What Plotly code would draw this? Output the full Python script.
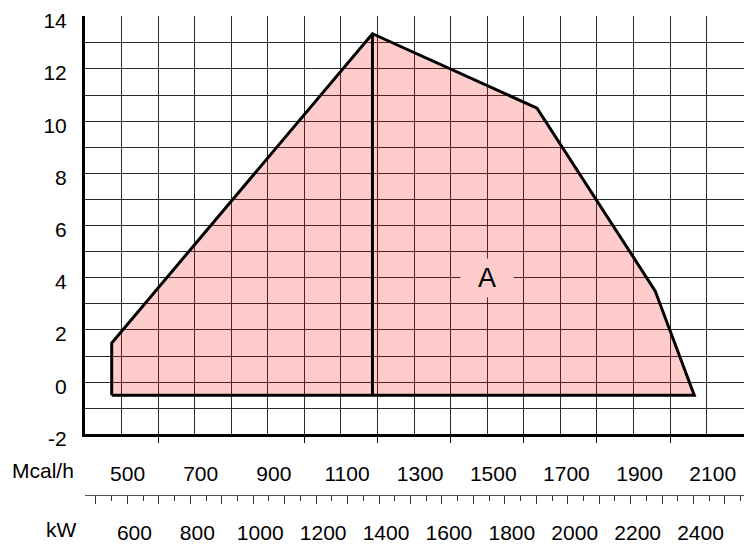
import plotly.graph_objects as go

# Working field boundary: output in Mcal/h vs. combustion-chamber pressure (mbar)
field_mcal = [473, 473, 1186, 1636, 1959, 2066, 473]
field_mbar = [-0.5, 1.5, 13.35, 10.5, 3.5, -0.5, -0.5]

# Divider from the peak straight down to the base
divider_mcal = [1186, 1186]
divider_mbar = [13.35, -0.5]

# Axis ranges and tick labels
X_MIN, X_MAX = 400, 2202
Y_MIN, Y_MAX = -2, 14.03
mcal_labels = [500, 700, 900, 1100, 1300, 1500, 1700, 1900, 2100]
mcal_marks = [600, 1000, 1200, 1400, 1600, 1800, 2000]
y_labels = [-2, 0, 2, 4, 6, 8, 10, 12, 14]
kw_labels = [600, 800, 1000, 1200, 1400, 1600, 1800, 2000, 2200, 2400]
KW_TO_MCAL = 0.86

FONT = "Liberation Sans, Arial, sans-serif"
GRID = "#2a2a2a"
FS = 21

fig = go.Figure()

fig.add_trace(go.Scatter(
    x=field_mcal, y=field_mbar, mode="lines", fill="toself",
    fillcolor="rgba(255,0,0,0.2)", line=dict(color="black", width=3),
    hoverinfo="skip", showlegend=False,
))
fig.add_trace(go.Scatter(
    x=divider_mcal, y=divider_mbar, mode="lines",
    line=dict(color="black", width=3), hoverinfo="skip", showlegend=False,
))
# placeholders so the secondary x axes are registered
fig.add_trace(go.Scatter(x=[], y=[], xaxis="x2", showlegend=False, hoverinfo="skip"))
fig.add_trace(go.Scatter(x=[], y=[], xaxis="x3", showlegend=False, hoverinfo="skip"))

fig.add_annotation(
    x=1500, y=4, text="A", showarrow=False,
    font=dict(family=FONT, size=27, color="black"),
    bgcolor="#FFCCCC", width=50, height=36,
)

grid_x = list(range(400, 2300, 100))
grid_y = list(range(-2, 15))

kw_ticks = list(range(500, 2600, 100))
kw_text = [str(v) if v in kw_labels else "" for v in kw_ticks]

fig.update_layout(
    width=744, height=544,
    margin=dict(l=85, r=0, t=16, b=46),
    paper_bgcolor="white", plot_bgcolor="white",
    font=dict(family=FONT, size=FS, color="black"),
    xaxis=dict(
        range=[X_MIN, X_MAX], anchor="y",
        tickmode="array", tickvals=grid_x,
        ticktext=[str(v) if v in mcal_labels else "" for v in grid_x],
        ticks="", showgrid=True, gridcolor=GRID, gridwidth=1,
        zeroline=False, showline=True, linecolor="black", linewidth=3,
        ticklabelshift=6, ticklabelstandoff=18,
        tickfont=dict(size=FS),
    ),
    xaxis3=dict(
        range=[X_MIN, X_MAX], anchor="y", overlaying="x",
        tickmode="array", tickvals=mcal_marks, ticks="outside",
        ticklen=8, tickwidth=1, tickcolor="black",
        showticklabels=False, showgrid=False, zeroline=False, showline=False,
    ),
    xaxis2=dict(
        range=[X_MIN / KW_TO_MCAL, X_MAX / KW_TO_MCAL],
        anchor="free", position=0, overlaying="x", side="bottom",
        tickmode="array", tickvals=kw_ticks, ticktext=kw_text,
        ticks="outside", ticklen=8, tickwidth=1, tickcolor="#333333",
        minor=dict(tickmode="array", tickvals=[v + 50 for v in kw_ticks],
                   ticks="outside", ticklen=5, tickwidth=1, tickcolor="#333333",
                   showgrid=False),
        showgrid=False, zeroline=False,
        showline=True, linecolor="#555555", linewidth=1,
        ticklabelshift=7, ticklabelstandoff=11,
        tickfont=dict(size=FS),
    ),
    yaxis=dict(
        range=[Y_MIN, Y_MAX], domain=[0.1266, 1],
        tickmode="array", tickvals=grid_y,
        ticktext=[str(v) if v in y_labels else "" for v in grid_y],
        ticks="", showgrid=True, gridcolor=GRID, gridwidth=1,
        zeroline=False, showline=True, linecolor="black", linewidth=3,
        ticklabelshift=4, ticklabelstandoff=11,
        tickfont=dict(size=FS),
    ),
    annotations=list(fig.layout.annotations) + [
        dict(xref="paper", yref="paper", x=-0.0637, y=0.0519, text="Mcal/h",
             showarrow=False, font=dict(size=FS), xanchor="center", yanchor="middle"),
        dict(xref="paper", yref="paper", x=-0.0364, y=-0.0726, text="kW",
             showarrow=False, font=dict(size=FS), xanchor="center", yanchor="middle"),
    ],
)

fig.write_html("out.html")
